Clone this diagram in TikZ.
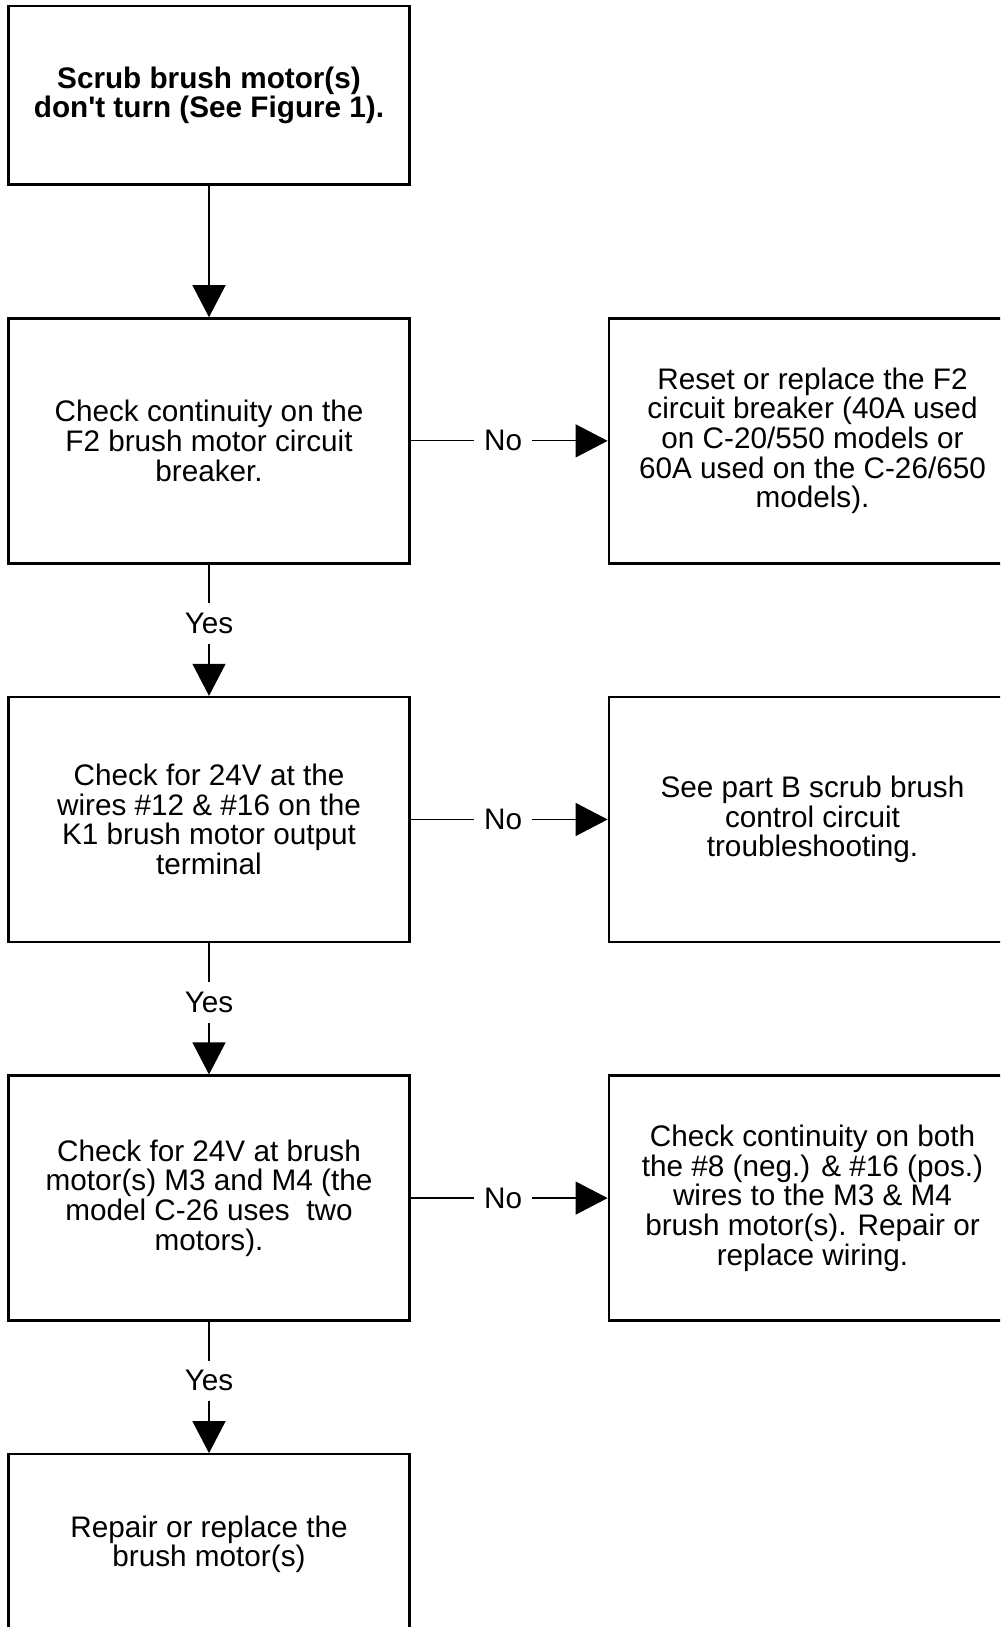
\documentclass[tikz,border=0pt]{standalone}
\usepackage{fontspec}
\setmainfont{Liberation Sans}
\usetikzlibrary{arrows.meta}

\begin{document}
\begin{tikzpicture}[
    every node/.style={font=\fontsize{16.9}{16.9}\selectfont},
    box/.style={draw, line width=1.3pt, align=center, inner sep=0pt},
    leftbox/.style={box, minimum width=8.02cm, minimum height=4.9cm},
    rightbox/.style={box, minimum width=8.15cm, minimum height=4.9cm},
    flow/.style={line width=0.68pt, -{Triangle[length=0.64cm, width=0.66cm]}},
    lbl/.style={fill=white, inner sep=0.2cm}
]

% --- Page frame ---
\path[use as bounding box] (0,0) rectangle (20,32.54);
\clip (0,0) rectangle (20,32.54);
\fill[white] (0,0) rectangle (20,32.54);

% --- Left column ---
\node[box, minimum width=8.02cm, minimum height=3.57cm,
      font=\fontsize{16.9}{16.9}\selectfont\bfseries] (fault) at (4.18,30.632)
    {Scrub brush motor(s)\\don\textquotesingle t turn (See Figure 1).};
\node[leftbox] (breaker) at (4.18,23.722)
    {Check continuity on the\\F2 brush motor circuit\\breaker.};
\node[leftbox] (relay) at (4.18,16.15)
    {Check for 24V at the\\wires \#12 \& \#16 on the\\K1 brush motor output\\terminal};
\node[leftbox] (motors) at (4.18,8.578)
    {Check for 24V at brush\\motor(s) M3 and M4 (the\\model C-26 uses~ two\\motors).};
\node[leftbox, minimum height=3.6cm] (repair) at (4.18,1.654)
    {Repair or replace the\\brush motor(s)};

% --- Right column ---
\node[rightbox] (reset) at (16.25,23.722)
    {Reset or replace the F2\\circuit breaker (40A used\\on C-20/550 models or\\60A used on the C-26/650\\models).};
\node[rightbox] (partb) at (16.25,16.15)
    {See part B scrub brush\\control circuit\\troubleshooting.};
\node[rightbox] (wiring) at (16.25,8.578)
    {Check continuity on both\\the \#8 (neg.) \& \#16 (pos.)\\wires to the M3 \& M4\\brush motor(s). Repair or\\replace wiring.};

% --- Yes branches ---
\draw[flow] (fault) -- (breaker);
\draw[flow] (breaker) -- node[lbl, pos=0.45] {Yes} (relay);
\draw[flow] (relay) -- node[lbl, pos=0.45] {Yes} (motors);
\draw[flow] (motors) -- node[lbl, pos=0.45] {Yes} (repair);

% --- No branches ---
\draw[flow] (breaker) -- node[lbl, pos=0.47] {No} (reset);
\draw[flow] (relay) -- node[lbl, pos=0.47] {No} (partb);
\draw[flow] (motors) -- node[lbl, pos=0.47] {No} (wiring);

\end{tikzpicture}
\end{document}
